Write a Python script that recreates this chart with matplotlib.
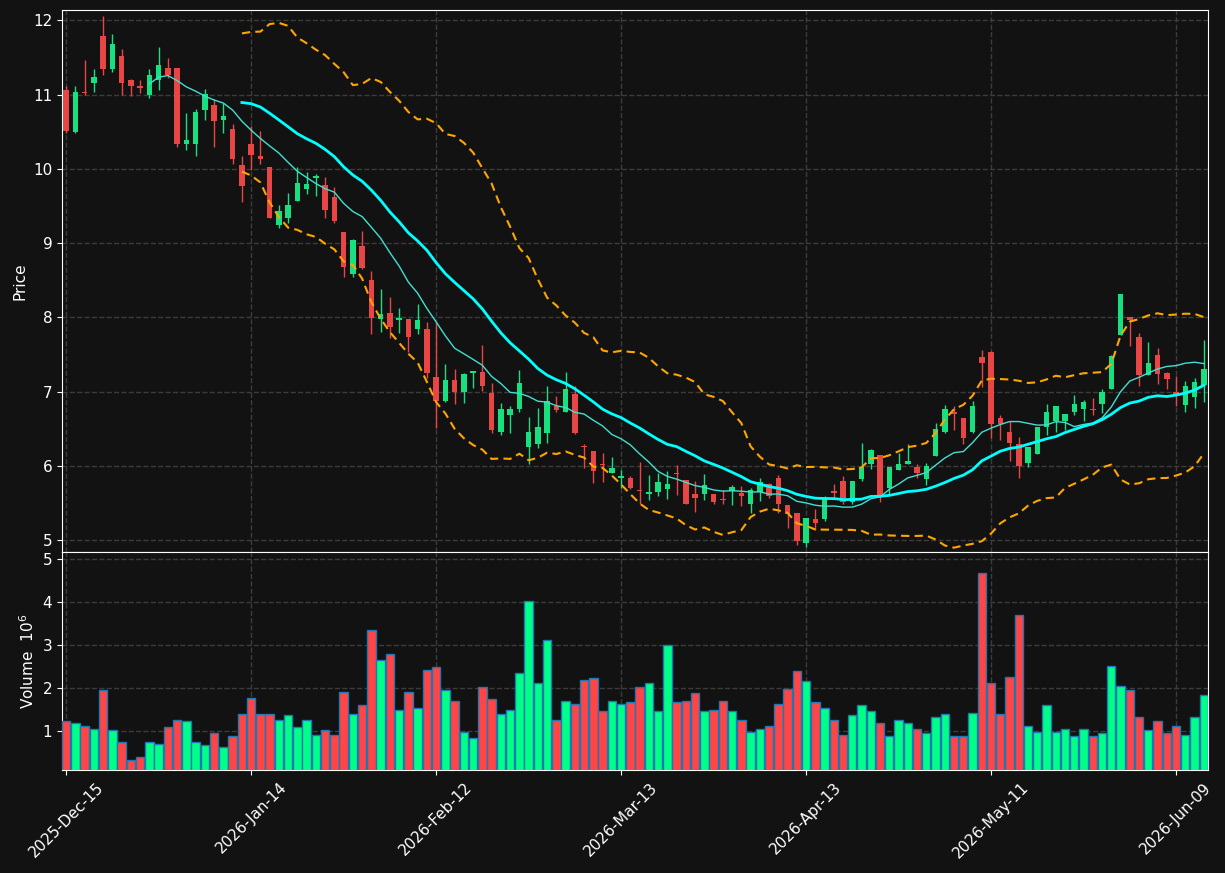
import numpy as np
import pandas as pd
import matplotlib
matplotlib.use('Agg')
import matplotlib.pyplot as plt

# daily OHLC + volume (millions), trading days 2025-12-15 .. 2026-06-12
opens = [11.06, 10.50, 11.04, 11.16, 11.79, 11.35, 11.52, 11.20, 11.12, 11.00,
         11.20, 11.36, 11.36, 10.34, 10.34, 10.80, 10.86, 10.66, 10.54, 10.05,
         10.33, 10.17, 10.03, 9.24, 9.34, 9.57, 9.73, 9.88, 9.78, 9.62,
         9.15, 8.58, 8.96, 8.50, 7.98, 8.06, 7.97, 7.98, 7.85, 7.85,
         7.20, 6.87, 7.16, 6.99, 7.25, 7.26, 6.98, 6.45, 6.68, 6.76,
         6.25, 6.29, 6.44, 6.81, 6.73, 6.97, 6.27, 6.20, 6.03, 5.90,
         5.84, 5.83, 5.67, 5.62, 5.65, 5.69, 5.91, 5.81, 5.62, 5.62,
         5.62, 5.55, 5.66, 5.64, 5.49, 5.65, 5.76, 5.83, 5.47, 5.36,
         4.96, 5.29, 5.29, 5.66, 5.79, 5.51, 5.82, 6.02, 6.14, 5.70,
         5.94, 6.03, 5.99, 5.82, 6.13, 6.45, 6.73, 6.64, 6.45, 7.46,
         7.53, 6.65, 6.45, 6.30, 6.04, 6.16, 6.52, 6.61, 6.61, 6.72,
         6.76, 6.76, 6.84, 7.04, 7.76, 8.00, 7.74, 7.23, 7.50, 7.25,
         7.00, 6.82, 6.93, 7.09]
highs = [11.12, 11.12, 11.47, 11.34, 12.06, 11.82, 11.62, 11.21, 11.20, 11.34,
         11.64, 11.49, 11.36, 10.75, 10.81, 11.07, 10.94, 10.89, 10.61, 10.17,
         10.58, 10.51, 10.03, 9.51, 9.68, 10.03, 9.96, 9.93, 9.89, 9.75,
         9.15, 9.06, 9.16, 8.62, 8.38, 8.27, 8.12, 7.98, 8.18, 7.94,
         7.94, 7.37, 7.30, 7.25, 7.28, 7.63, 7.11, 6.85, 6.81, 7.29,
         6.66, 6.78, 7.07, 6.94, 7.26, 7.07, 6.29, 6.20, 6.17, 6.12,
         5.95, 5.87, 6.05, 5.88, 5.90, 5.93, 6.01, 5.81, 5.79, 5.89,
         5.62, 5.68, 5.74, 5.73, 5.70, 5.83, 5.77, 5.88, 5.47, 5.36,
         5.30, 5.42, 5.60, 5.75, 5.87, 5.79, 6.31, 6.23, 6.14, 5.99,
         6.17, 6.30, 6.03, 6.04, 6.58, 6.82, 6.81, 6.64, 6.87, 7.56,
         7.55, 6.68, 6.60, 6.39, 6.26, 6.52, 6.83, 6.81, 6.70, 6.95,
         6.89, 6.92, 7.04, 7.49, 8.32, 8.00, 7.79, 7.67, 7.59, 7.27,
         7.21, 7.15, 7.19, 7.69]
lows = [10.49, 10.49, 10.99, 11.04, 11.27, 11.30, 11.00, 10.98, 11.02, 10.96,
        11.06, 11.22, 10.30, 10.25, 10.18, 10.66, 10.30, 10.49, 10.06, 9.56,
        9.99, 10.06, 9.34, 9.21, 9.27, 9.57, 9.66, 9.63, 9.34, 9.27,
        8.55, 8.54, 8.65, 7.77, 7.81, 7.72, 7.79, 7.54, 7.77, 7.18,
        6.51, 6.86, 6.83, 6.85, 7.05, 7.01, 6.44, 6.42, 6.44, 6.73,
        6.03, 6.24, 6.31, 6.73, 6.73, 6.43, 5.97, 5.77, 5.78, 5.90,
        5.70, 5.69, 5.49, 5.54, 5.60, 5.56, 5.61, 5.49, 5.38, 5.54,
        5.49, 5.49, 5.47, 5.46, 5.37, 5.53, 5.57, 5.37, 5.16, 4.94,
        4.91, 5.14, 5.26, 5.56, 5.48, 5.48, 5.79, 5.96, 5.52, 5.61,
        5.94, 6.03, 5.83, 5.74, 6.13, 6.44, 6.48, 6.30, 6.44, 7.06,
        6.38, 6.35, 6.06, 5.84, 5.98, 6.16, 6.42, 6.46, 6.48, 6.69,
        6.61, 6.69, 6.71, 7.04, 7.76, 7.61, 7.08, 7.23, 7.10, 7.04,
        6.80, 6.72, 6.78, 6.86]
closes = [10.51, 11.03, 11.02, 11.24, 11.35, 11.68, 11.16, 11.12, 11.09, 11.26,
          11.40, 11.26, 10.34, 10.39, 10.77, 11.01, 10.64, 10.71, 10.14, 9.77,
          10.19, 10.14, 9.34, 9.43, 9.51, 9.81, 9.80, 9.90, 9.45, 9.30,
          8.68, 9.04, 8.66, 7.99, 8.04, 7.87, 7.99, 7.73, 7.96, 7.25,
          6.87, 7.16, 6.99, 7.24, 7.28, 7.08, 6.49, 6.77, 6.77, 7.12,
          6.45, 6.52, 6.87, 6.75, 7.04, 6.44, 6.25, 5.93, 6.01, 5.97,
          5.87, 5.70, 5.66, 5.65, 5.78, 5.76, 5.89, 5.49, 5.57, 5.74,
          5.52, 5.54, 5.71, 5.59, 5.67, 5.78, 5.59, 5.49, 5.35, 4.99,
          5.30, 5.23, 5.57, 5.63, 5.51, 5.79, 5.98, 6.22, 5.61, 5.99,
          6.02, 6.07, 5.91, 6.00, 6.50, 6.76, 6.70, 6.37, 6.81, 7.39,
          6.57, 6.56, 6.31, 6.00, 6.26, 6.52, 6.73, 6.81, 6.70, 6.83,
          6.86, 6.75, 7.00, 7.48, 8.31, 7.96, 7.23, 7.39, 7.24, 7.17,
          6.97, 7.08, 7.13, 7.30]
volumes = [1.23, 1.20, 1.13, 1.04, 1.95, 1.02, 0.76, 0.34, 0.41, 0.74,
           0.71, 1.09, 1.25, 1.23, 0.76, 0.67, 0.95, 0.64, 0.88, 1.39,
           1.76, 1.41, 1.39, 1.25, 1.37, 1.09, 1.25, 0.92, 1.02, 0.92,
           1.90, 1.39, 1.62, 3.35, 2.65, 2.79, 1.50, 1.92, 1.55, 2.41,
           2.48, 1.95, 1.69, 0.99, 0.85, 2.02, 1.74, 1.41, 1.50, 2.34,
           4.02, 2.13, 3.11, 1.27, 1.69, 1.64, 2.18, 2.23, 1.48, 1.69,
           1.64, 1.67, 2.02, 2.13, 1.46, 3.00, 1.67, 1.69, 1.88, 1.46,
           1.50, 1.69, 1.48, 1.25, 0.99, 1.04, 1.13, 1.64, 1.97, 2.39,
           2.16, 1.67, 1.53, 1.27, 0.92, 1.37, 1.60, 1.48, 1.18, 0.88,
           1.25, 1.18, 1.04, 0.97, 1.32, 1.39, 0.88, 0.90, 1.43, 4.67,
           2.13, 1.39, 2.25, 3.70, 1.11, 0.99, 1.60, 0.99, 1.06, 0.90,
           1.06, 0.88, 0.97, 2.51, 2.06, 1.95, 1.34, 1.02, 1.23, 0.95,
           1.13, 0.92, 1.34, 1.85]
tick_pos = [0, 20, 40, 60, 80, 100, 120]
tick_labels = ['2025-Dec-15', '2026-Jan-14', '2026-Feb-12', '2026-Mar-13',
               '2026-Apr-13', '2026-May-11', '2026-Jun-09']

bg = '#121212'
up_c, dn_c = '#18e080', '#e84545'
vup_c, vdn_c = '#00ff88', '#ff4545'

df = pd.DataFrame({'open': opens, 'high': highs, 'low': lows, 'close': closes, 'vol': volumes})
x = np.arange(len(df))
up = df['close'] >= df['open']
ma10 = df['close'].rolling(10).mean()
ma20 = df['close'].rolling(20).mean()
sd20 = df['close'].rolling(20).std(ddof=0)

plt.rcParams['font.size'] = 11
fig = plt.figure(figsize=(12.25, 8.73), dpi=100, facecolor=bg)
ax = fig.add_axes([0.0506, 0.3677, 0.9355, 0.6208], facecolor=bg)
axv = fig.add_axes([0.0506, 0.118, 0.9355, 0.2497], facecolor=bg, sharex=ax)

# candles
cols = np.where(up, up_c, dn_c)
ax.vlines(x, df['low'], df['high'], colors=cols, linewidth=1, zorder=2)
body_lo = np.minimum(df['open'], df['close'])
body_h = np.maximum(np.abs(df['close'] - df['open']), 0.012)
ax.bar(x, body_h, bottom=body_lo, width=0.6, color=cols, linewidth=0, zorder=3)

ax.plot(x, ma10, color='#40e0d0', linewidth=1, zorder=4)
ax.plot(x, ma20, color='#00ffff', linewidth=2, zorder=4)
ax.plot(x, ma20 + 2 * sd20, color='#ffa500', linewidth=1.5, linestyle=(0, (4, 2.5)), zorder=4)
ax.plot(x, ma20 - 2 * sd20, color='#ffa500', linewidth=1.5, linestyle=(0, (4, 2.5)), zorder=4)

# volume
axv.bar(x, df['vol'], width=0.9, color=np.where(up, vup_c, vdn_c),
        edgecolor='#1f77b4', linewidth=1, zorder=3)

ax.set_xlim(-0.45, 123.45)
ax.set_ylim(4.84, 12.14)
axv.set_ylim(0.1, 5.16)
ax.set_yticks(range(5, 13))
axv.set_yticks(range(1, 6))
axv.set_xticks(tick_pos)
axv.set_xticklabels(tick_labels, rotation=45, ha='center')
ax.tick_params(labelbottom=False)

ax.set_ylabel('Price', color='white')
axv.set_ylabel('Volume  $10^{6}$', color='white')

for a in (ax, axv):
    a.grid(True, color='#3c3c3c', linestyle='--', linewidth=1)
    a.set_axisbelow(True)
    a.tick_params(colors='white', labelcolor='white')
    for s in a.spines.values():
        s.set_color('white')

fig.savefig('out.png', dpi=100, facecolor=bg)
